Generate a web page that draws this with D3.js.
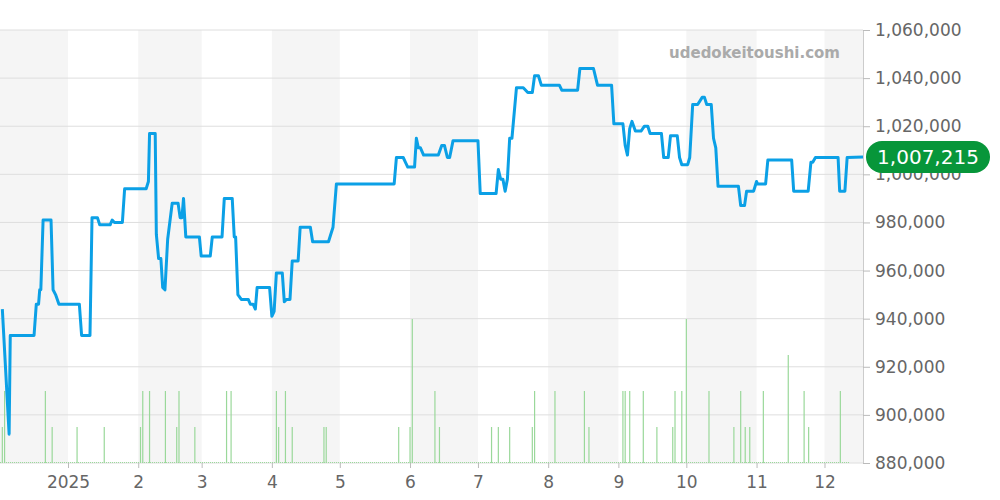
<!DOCTYPE html>
<html><head><meta charset="utf-8">
<script src="https://cdn.jsdelivr.net/npm/d3@7"></script>
<style>body{margin:0;background:#fff}svg,svg text{font-family:"DejaVu Sans",sans-serif}</style>
</head><body><svg id="c" width="1000" height="500"></svg>
<script>
// days since 2024-12-01, price (thousand yen)
const priceDays=[2,5,5.5,16,17,18,18.5,19,20,23.5,24.4,25.5,27,36,37,40.7,41.6,44,45,49.6,50.5,51.5,55,56,65.5,66.5,67,69.5,70,71,72,72.8,73.8,75,77,79.6,80.5,81.3,82,83,89,89.8,93.8,94.7,99,100,103.5,104.4,105,106,107.5,110.6,111.5,112.7,113.7,114.5,120,121,122,123,125.6,126.5,127.4,129,130,132.6,133.5,138,139,146,148,149.5,175,176,179,180,181,184,184.8,185.7,186.6,188,194.5,196,197.2,198.5,199.5,201,212,213,220,221,222,223,224,225,226,227,229,232,234,236,237,238.7,240,248,249,256,257,263,264.8,271,272,276,277,278,279,280,281.5,284,285.5,287,288,293,294,296,297,300,301,302,304.6,305.5,306.8,309,311,312,313,315,316,317,318,327,328,329.7,330.6,333.7,335,335.5,339,340,350.5,351.4,357,357.8,359,359.8,361,371,371.7,374,375,382];
const priceVals=[944,892,933,933,946,946,952,952,981,981,952,950,946,946,933,933,982,982,979,979,981,980,980,994,994,997,1017,1017,975,965,965,953,952,973,988,988,982,982,990,974,974,966,966,974,974,990,990,974,974,950,948,948,946,946,944,953,953,941,943,959,959,947,948,948,964,964,978,978,972,972,978,996,996,1007,1007,1005,1003,1003,1015,1011,1011,1008,1008,1012,1012,1007,1007,1014,1014,992,992,1002,998,998,993,998,1015,1015,1036,1036,1034,1034,1041,1041,1037,1037,1035,1035,1044,1044,1037,1037,1021,1021,1012,1008,1019,1022,1018,1018,1020,1020,1017,1017,1007,1007,1016,1016,1007,1004,1004,1007,1029,1029,1032,1032,1029,1029,1015,1011,995,995,987,987,993,993,997,996,996,1006,1006,993,993,993,1005,1005,1007,1007,993,993,1007,1007.215];
const volDays=[2,3,21,24,35,47,63,64,67,74,79,80,87,101,103,123,124,127,130,144,145,177,182,183,193,195,218,221,226,236,237,246,259,261,276,277,279,285,291,298,299,302,304,314,325,328,330,332,338,349,356,358,372];
const volCounts=[1,2,2,1,1,1,1,2,2,2,1,2,1,2,2,2,1,2,1,1,1,1,1,4,2,1,1,1,1,1,2,2,2,1,2,2,2,2,1,1,2,2,4,2,1,2,1,1,2,3,2,1,2];
const yTicks=[880000,900000,920000,940000,960000,980000,1000000,1020000,1040000,1060000];
const monthLabels=["2025","2","3","4","5","6","7","8","9","10","11","12"];
const lastLabel="1,007,215";
const watermark="udedokeitoushi.com";

const svg=d3.select("#c");
const t0=new Date(2024,11,1), dt=d=>new Date(t0.getTime()+d*864e5);
const x=d3.scaleTime().domain([t0,new Date(2024,11,1+382.3)]).range([-2.2,863]);
const y=d3.scaleLinear().domain([880000,1060000]).range([463,30]);
const yv=d3.scaleLinear().domain([0,4]).range([463,319]);
const months=d3.range(0,13).map(i=>new Date(2024,11+i,1));
months.forEach((m,i)=>{ if(i%2==0){const e=new Date(2024,12+i,1);
  const x0=Math.max(0,x(m)),x1=Math.min(863,x(e));
  svg.append("rect").attr("x",x0).attr("y",30).attr("width",x1-x0).attr("height",433).attr("fill","#f5f5f5");}});
svg.append("g").selectAll("line").data(yTicks).join("line").attr("x1",0).attr("x2",863)
  .attr("y1",d=>y(d)).attr("y2",d=>y(d)).attr("stroke","#dedede").attr("stroke-width",1);
const ya=svg.append("g").attr("transform","translate(863,0)").call(d3.axisRight(y).tickValues(yTicks).tickFormat(d3.format(",")).tickSize(7).tickPadding(5));
ya.attr("font-family","DejaVu Sans");
ya.select(".domain").attr("stroke","#ccc");ya.selectAll("line").attr("stroke","#bbb");
ya.selectAll("text").attr("fill","#666").attr("font-size",17);
const xa=svg.append("g").attr("transform","translate(0,463)").call(d3.axisBottom(x).tickValues(months.slice(1)).tickFormat((d,i)=>monthLabels[i]).tickSize(5).tickPadding(8));
xa.attr("font-family","DejaVu Sans");
xa.select(".domain").remove();xa.selectAll("line").attr("stroke","#bbb");
xa.selectAll("text").attr("fill","#666").attr("font-size",17);
svg.append("line").attr("x1",0).attr("x2",850).attr("y1",462.5).attr("y2",462.5).attr("stroke","#9bd99b").attr("stroke-dasharray","1,1");
svg.append("g").selectAll("line").data(volDays).join("line")
  .attr("x1",(d)=>x(dt(d))).attr("x2",d=>x(dt(d))).attr("y1",463).attr("y2",(d,i)=>yv(volCounts[i]))
  .attr("stroke","#9ad89a").attr("stroke-width",1.2);
const pts=priceDays.map((d,i)=>[dt(d),priceVals[i]*1000]);
svg.append("path").datum(pts).attr("fill","none").attr("stroke","#0ba0e6").attr("stroke-width",3).attr("stroke-linejoin","round")
  .attr("d",d3.line().x(d=>x(d[0])).y(d=>y(d[1])));
svg.append("text").attr("x",840).attr("y",58).attr("text-anchor","end").attr("fill","#aaa").attr("font-size",15).attr("font-weight","bold").text(watermark);
const yl=y(pts[pts.length-1][1]);
svg.append("rect").attr("x",866).attr("y",yl-16).attr("width",124).attr("height",32).attr("rx",16).attr("fill","#07963a");
svg.append("text").attr("x",928).attr("y",yl+7).attr("text-anchor","middle").attr("fill","#fff").attr("font-size",20).text(lastLabel);
</script></body></html>
